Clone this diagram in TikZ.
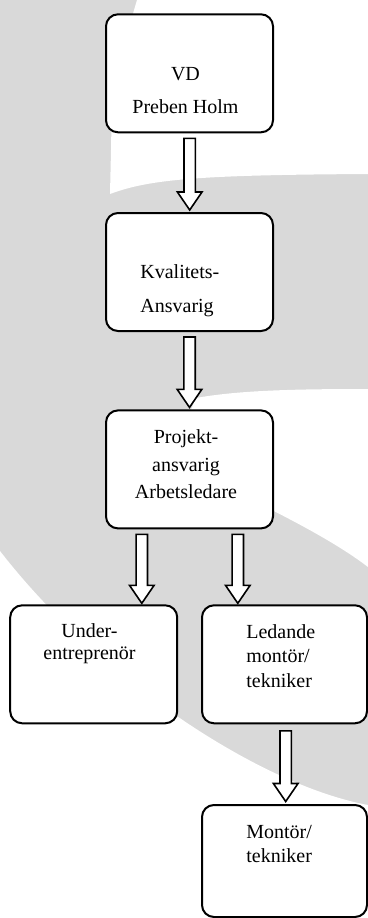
\documentclass[tikz,border=0pt]{standalone}
\usepackage{fontspec}
\setmainfont{Liberation Serif}
\usetikzlibrary{calc}

\definecolor{logogrey}{RGB}{217,217,217}

\tikzset{
  orgbox/.style={draw, line width=1pt, rounded corners=6pt, fill=white,
    minimum width=83.5pt, minimum height=59pt, inner sep=0pt},
  boxtext/.style={inner sep=0pt, font=\fontsize{10}{#1}\selectfont},
  arrowline/.style={draw, fill=white, line width=0.8pt, line join=miter},
}

\newcommand{\blockarrow}[2]{%
  \path[arrowline] let \p1=(#1), \p2=(#2) in
    (\x1-2.85pt,\y1) -- (\x1+2.85pt,\y1) -- (\x1+2.85pt,\y2+9pt)
    -- (\x1+6.15pt,\y2+9pt) -- (\x1,\y2) -- (\x1-6.15pt,\y2+9pt)
    -- (\x1-2.85pt,\y2+9pt) -- cycle;}

\begin{document}
\begin{tikzpicture}[x=0.5pt, y=-0.5pt]
  \useasboundingbox (0,0) rectangle (368,918);

  % logo in the background
  \fill[logogrey] (0,0) rectangle (368,918);
  \fill[white] (137,0) .. controls (122,50) and (111,100) .. (111,150) -- (110,194)
    .. controls (150,179) and (200,175) .. (368,174) -- (368,0) -- cycle;
  \fill[white] (368,389) .. controls (300,389) and (240,390) .. (196,398)
    -- (190,412) -- (190,470) .. controls (230,490) and (320,530) .. (368,567) -- cycle;
  \fill[white] (0,551) .. controls (100,680) and (260,785) .. (368,805)
    -- (368,918) -- (0,918) -- cycle;

  \node[orgbox] (vd)    at (189.5,73.3) {};
  \node[orgbox] (kval)  at (189.5,272)  {};
  \node[orgbox] (proj)  at (189.5,469.4) {};
  \node[orgbox] (under) at (93.7,664.3) {};
  \node[orgbox, minimum width=82.5pt] (led)  at (284.5,664.3) {};
  \node[orgbox, minimum width=82.5pt, minimum height=56pt] (mont) at (284.5,861) {};

  \blockarrow{$(vd.south)+(0.2,5)$}{$(kval.north)+(0,-2)$}
  \blockarrow{$(kval.south)+(0,5)$}{$(proj.north)+(0,-2)$}
  \blockarrow{$(proj.south)+(-47.7,5)$}{$(under.north)+(0,-1)$}
  \blockarrow{$(proj.south)+(48.3,5)$}{$(led.north)+(0,-1)$}
  \blockarrow{$(led.south)+(1.2,6.5)$}{$(mont.north)+(0,-2.5)$}

  \node[boxtext=16.65, anchor=north, align=center] (vdtext) at (185.5,66.7) {VD\\Preben Holm};
  \node[boxtext=16.65, anchor=north west, align=left] (kvaltext) at (140,264.6) {Kvalitets-\\Ansvarig};
  \node[boxtext=13.75, anchor=north, align=center] (projtext) at (186,429.6) {Projekt-\\ansvarig\\Arbetsledare};
  \node[boxtext=11, anchor=north, align=center] (undertext) at (89.5,623) {Under-\\entreprenör};
  \node[boxtext=12.2, anchor=north west, align=left] (ledtext) at (246,624.3) {Ledande\\montör/\\tekniker};
  \node[boxtext=12.2, anchor=north west, align=left] (monttext) at (246,824.5) {Montör/\\tekniker};
\end{tikzpicture}
\end{document}
